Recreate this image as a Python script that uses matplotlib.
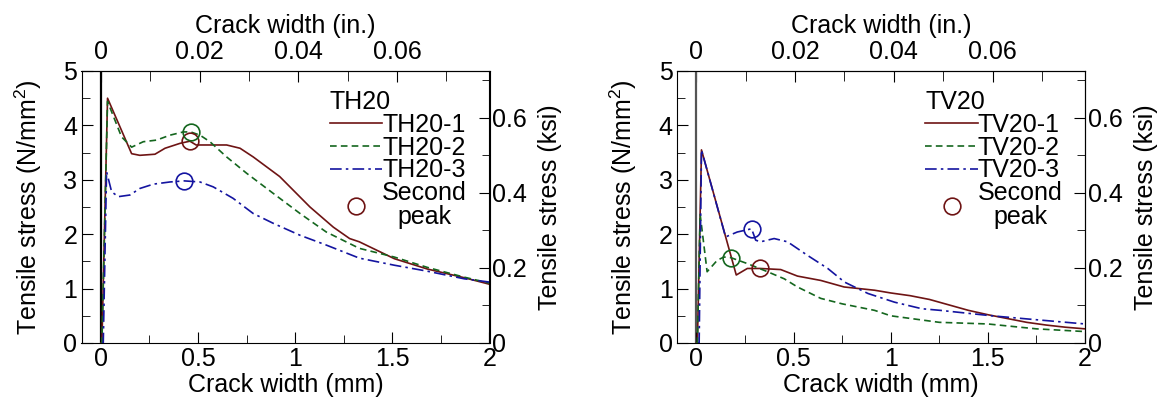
import numpy as np
import matplotlib
matplotlib.use('Agg')
from matplotlib import pyplot as plt
from matplotlib.ticker import MultipleLocator

plt.rcParams['font.family'] = ['Liberation Sans', 'DejaVu Sans']
plt.rcParams['mathtext.fontset'] = 'custom'
plt.rcParams['mathtext.rm'] = 'Liberation Sans'
plt.rcParams['mathtext.it'] = 'Liberation Sans'

#--------------------------------
# DATA (crack width in mm, tensile stress in N/mm2)
#--------------------------------
# TH20 specimens
th1_x = [0.0, 0.005, 0.034, 0.158, 0.20, 0.278, 0.33, 0.407, 0.458, 0.49, 0.647, 0.716, 0.784, 0.92,
         1.076, 1.196, 1.28, 1.33, 1.51, 1.68, 1.87, 2.0]
th1_y = [0.0, 0.0, 4.50, 3.48, 3.45, 3.47, 3.58, 3.67, 3.71, 3.64, 3.64, 3.58, 3.42, 3.06,
         2.50, 2.13, 1.92, 1.86, 1.55, 1.36, 1.20, 1.08]
th2_x = [0.0, 0.005, 0.034, 0.106, 0.158, 0.218, 0.287, 0.355, 0.424, 0.462, 0.51, 0.561, 0.647, 0.75,
         0.887, 1.025, 1.16, 1.33, 1.51, 1.68, 1.87, 2.0]
th2_y = [0.0, 0.0, 4.44, 3.79, 3.60, 3.70, 3.73, 3.82, 3.88, 3.88, 3.82, 3.70, 3.42, 3.12,
         2.75, 2.38, 2.04, 1.74, 1.58, 1.39, 1.21, 1.10]
th3_x = [0.005, 0.012, 0.029, 0.055, 0.089, 0.149, 0.20, 0.27, 0.355, 0.429, 0.51, 0.578, 0.68, 0.784,
         0.887, 1.025, 1.16, 1.33, 1.51, 1.68, 1.87, 2.0]
th3_y = [0.0, 0.0, 3.15, 2.78, 2.69, 2.72, 2.84, 2.92, 2.96, 2.98, 2.96, 2.87, 2.66, 2.38,
         2.20, 1.98, 1.80, 1.56, 1.43, 1.32, 1.18, 1.12]
th_peak_x = [0.458, 0.462, 0.429]
th_peak_y = [3.71, 3.88, 2.98]

# TV20 specimens
tv1_x = [0.0, 0.005, 0.026, 0.205, 0.262, 0.328, 0.434, 0.52, 0.64, 0.76, 0.917, 1.0, 1.1, 1.2,
         1.3, 1.4, 1.5, 1.6, 1.7, 1.8, 1.9, 2.0]
tv1_y = [0.0, 0.0, 3.55, 1.25, 1.37, 1.37, 1.35, 1.23, 1.15, 1.03, 0.97, 0.92, 0.87, 0.80,
         0.70, 0.60, 0.52, 0.45, 0.38, 0.33, 0.29, 0.26]
tv2_x = [0.0, 0.005, 0.019, 0.055, 0.107, 0.141, 0.176, 0.262, 0.366, 0.452, 0.52, 0.64, 0.75,
         0.917, 1.0, 1.25, 1.5, 1.75, 2.0]
tv2_y = [0.0, 0.0, 2.37, 1.31, 1.52, 1.58, 1.57, 1.46, 1.31, 1.18, 1.03, 0.82, 0.72,
         0.60, 0.50, 0.38, 0.35, 0.26, 0.21]
tv3_x = [0.008, 0.014, 0.026, 0.15, 0.21, 0.284, 0.305, 0.33, 0.40, 0.469, 0.572, 0.676, 0.762,
         0.883, 1.02, 1.16, 1.255, 1.52, 1.71, 2.0]
tv3_y = [0.0, 0.0, 3.55, 1.95, 2.04, 2.10, 1.89, 1.86, 1.92, 1.86, 1.61, 1.37, 1.12,
         0.91, 0.75, 0.63, 0.60, 0.50, 0.44, 0.35]
tv_peak_x = [0.328, 0.176, 0.284]
tv_peak_y = [1.37, 1.57, 2.10]

panels = [
    ('TH20', ['TH20-1', 'TH20-2', 'TH20-3'], [(th1_x, th1_y), (th2_x, th2_y), (th3_x, th3_y)],
     th_peak_x, th_peak_y, 'black'),
    ('TV20', ['TV20-1', 'TV20-2', 'TV20-3'], [(tv1_x, tv1_y), (tv2_x, tv2_y), (tv3_x, tv3_y)],
     tv_peak_x, tv_peak_y, '#555555'),
]

colors = ['#6e1414', '#14661e', '#1414a0']
styles = ['-', (0, (4, 2.5)), (0, (7, 2.5, 1.5, 2.5))]

MM_PER_IN = 25.4
MPA_PER_KSI = 6.895
fs = 18

fig = plt.figure(figsize=(11.66, 4.05), dpi=100)
lefts = [81.5 / 1166, 677 / 1166]

for (title, names, series, px, py, zcol), left in zip(panels, lefts):
    ax = fig.add_axes([left, 1 - 343 / 405, 408 / 1166, 272 / 405])
    ax.axvline(0, color=zcol, lw=1.6, zorder=1)
    handles = []
    for (x, y), c, ls, nm in zip(series, colors, styles, names):
        h, = ax.plot(x, y, color=c, ls=ls, lw=1.2, label=nm, zorder=3)
        handles.append(h)
    for xx, yy, c in zip(px, py, colors):
        ax.plot(xx, yy, 'o', mfc='none', mec=c, ms=12, mew=1.2, zorder=4)
    mk, = ax.plot([], [], 'o', mfc='none', mec=colors[0], ms=12, mew=1.2, label='Second\npeak')
    handles.append(mk)

    ax.set_xlim(-0.1, 2)
    ax.set_ylim(0, 5)
    ax.xaxis.set_minor_locator(MultipleLocator(0.25))
    ax.yaxis.set_major_locator(MultipleLocator(1))
    ax.yaxis.set_minor_locator(MultipleLocator(0.5))
    ax.set_xticks([0, 0.5, 1, 1.5, 2], ['0', '0.5', '1', '1.5', '2'])
    ax.tick_params(which='both', direction='in', top=False, right=False, labelsize=fs, pad=3)
    ax.tick_params(which='major', length=8)
    ax.tick_params(which='minor', length=6)
    ax.set_xlabel('Crack width (mm)', fontsize=fs, labelpad=1)
    ax.set_ylabel('Tensile stress (N/mm$^2$)', fontsize=fs, labelpad=14)

    top = ax.secondary_xaxis('top', functions=(lambda v: v / MM_PER_IN, lambda v: v * MM_PER_IN))
    top.set_xticks([0, 0.02, 0.04, 0.06], ['0', '0.02', '0.04', '0.06'])
    top.xaxis.set_minor_locator(MultipleLocator(0.01))
    top.tick_params(which='both', direction='in', labelsize=fs, pad=5)
    top.tick_params(which='major', length=8)
    top.tick_params(which='minor', length=7)
    top.set_xlabel('Crack width (in.)', fontsize=fs, labelpad=5)

    rgt = ax.secondary_yaxis('right', functions=(lambda v: v / MPA_PER_KSI, lambda v: v * MPA_PER_KSI))
    rgt.set_yticks([0, 0.2, 0.4, 0.6], ['0', '0.2', '0.4', '0.6'])
    rgt.yaxis.set_minor_locator(MultipleLocator(0.1))
    rgt.tick_params(which='both', direction='in', labelsize=fs, pad=2)
    rgt.tick_params(which='major', length=8)
    rgt.tick_params(which='minor', length=6)
    rgt.set_ylabel('Tensile stress (ksi)', fontsize=fs, labelpad=8)

    leg = ax.legend(handles=handles, title=title, loc='upper right', bbox_to_anchor=(0.945, 0.93),
                    frameon=False, fontsize=fs, title_fontsize=fs, handlelength=2.1,
                    handletextpad=0.0, labelspacing=-0.05, borderaxespad=0.0, borderpad=0.0)
    leg._legend_box.align = 'left'
    peak_txt = leg.get_texts()[3]
    peak_txt.set_multialignment('center')
    peak_txt.set_linespacing(1.0)

fig.savefig('out.png', dpi=100)
